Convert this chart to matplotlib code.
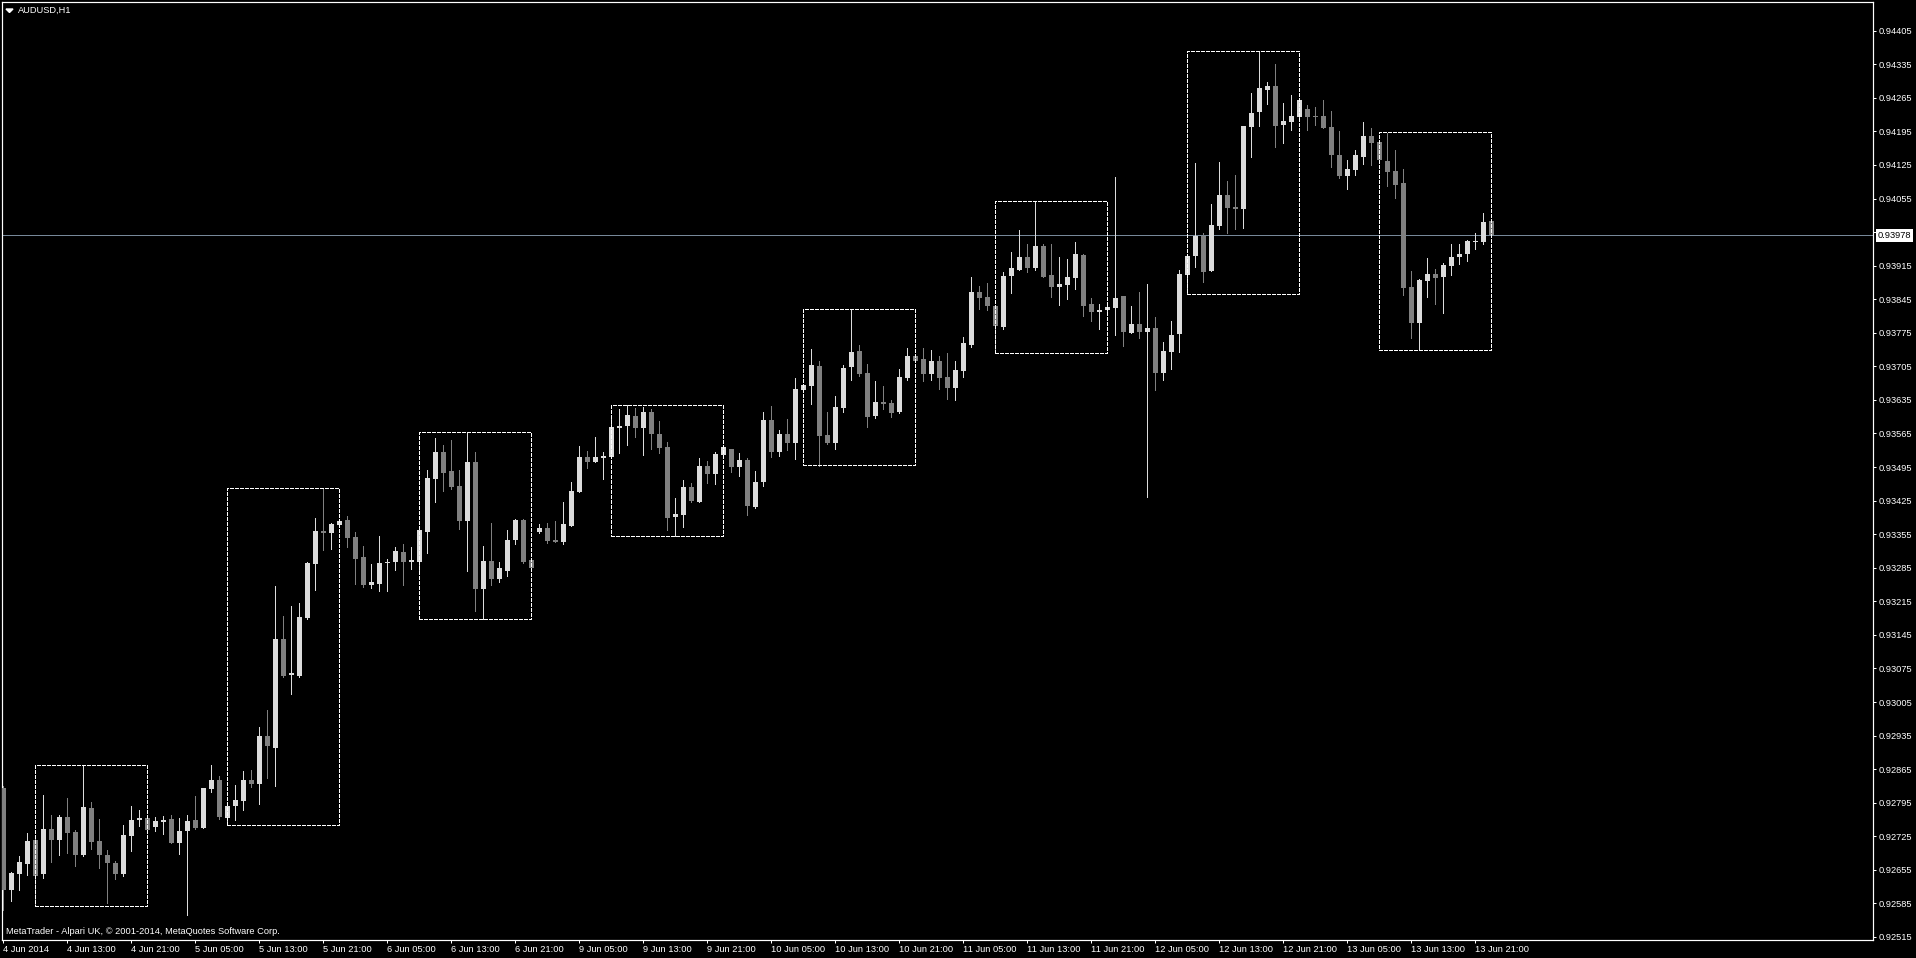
import numpy as np
import matplotlib
matplotlib.use('Agg')
import matplotlib.pyplot as plt
from matplotlib.patches import Rectangle, Polygon
from matplotlib.transforms import blended_transform_factory

plt.rcParams['font.family'] = ['Liberation Sans', 'DejaVu Sans']

# AUDUSD H1, bar 0 = 4 Jun 2014 05:00
opens = [0.92825, 0.92613, 0.92647, 0.92667, 0.92717, 0.92647, 0.92740, 0.92717, 0.92765, 0.92734,
         0.92685, 0.92784, 0.92715, 0.92687, 0.92670, 0.92647, 0.92726, 0.92758, 0.92763, 0.92745,
         0.92755, 0.92761, 0.92710, 0.92735, 0.92759, 0.92743, 0.92824, 0.92843, 0.92763, 0.92788,
         0.92799, 0.92843, 0.92834, 0.92934, 0.92909, 0.93137, 0.93062, 0.93059, 0.93180, 0.93292,
         0.93362, 0.93358, 0.93375, 0.93385, 0.93349, 0.93308, 0.93248, 0.93252, 0.93294, 0.93296,
         0.93318, 0.93298, 0.93298, 0.93360, 0.93471, 0.93527, 0.93486, 0.93456, 0.93383, 0.93506,
         0.93240, 0.93299, 0.93262, 0.93279, 0.93343, 0.93385, 0.93301, 0.93360, 0.93368, 0.93343,
         0.93339, 0.93372, 0.93443, 0.93516, 0.93506, 0.93514, 0.93516, 0.93576, 0.93581, 0.93601,
         0.93576, 0.93610, 0.93564, 0.93537, 0.93391, 0.93395, 0.93453, 0.93422, 0.93497, 0.93481,
         0.93520, 0.93533, 0.93495, 0.93510, 0.93412, 0.93464, 0.93593, 0.93526, 0.93564, 0.93545,
         0.93656, 0.93664, 0.93706, 0.93562, 0.93545, 0.93618, 0.93704, 0.93737, 0.93691, 0.93601,
         0.93631, 0.93629, 0.93610, 0.93681, 0.93727, 0.93720, 0.93689, 0.93716, 0.93683, 0.93660,
         0.93695, 0.93750, 0.93860, 0.93850, 0.93831, 0.93787, 0.93893, 0.93906, 0.93933, 0.93910,
         0.93956, 0.93896, 0.93871, 0.93875, 0.93889, 0.93937, 0.93835, 0.93818, 0.93822, 0.93827,
         0.93852, 0.93775, 0.93793, 0.93777, 0.93785, 0.93691, 0.93735, 0.93772, 0.93896, 0.93935,
         0.93977, 0.93904, 0.93998, 0.94062, 0.94037, 0.94033, 0.94204, 0.94235, 0.94281, 0.94290,
         0.94208, 0.94215, 0.94225, 0.94242, 0.94227, 0.94227, 0.94204, 0.94146, 0.94102, 0.94115,
         0.94142, 0.94185, 0.94173, 0.94133, 0.94112, 0.94087, 0.93870, 0.93795, 0.93883, 0.93898,
         0.93891, 0.93914, 0.93933, 0.93939, 0.93964, 0.93964, 0.94008]
highs = [0.92829, 0.92651, 0.92683, 0.92731, 0.92724, 0.92811, 0.92770, 0.92770, 0.92805, 0.92738,
         0.92872, 0.92797, 0.92761, 0.92697, 0.92673, 0.92749, 0.92788, 0.92780, 0.92765, 0.92765,
         0.92768, 0.92770, 0.92763, 0.92770, 0.92809, 0.92826, 0.92874, 0.92851, 0.92790, 0.92832,
         0.92861, 0.92863, 0.92953, 0.92989, 0.93247, 0.93185, 0.93205, 0.93212, 0.93296, 0.93389,
         0.93450, 0.93378, 0.93384, 0.93393, 0.93360, 0.93331, 0.93292, 0.93352, 0.93304, 0.93329,
         0.93335, 0.93329, 0.93364, 0.93489, 0.93556, 0.93541, 0.93552, 0.93489, 0.93568, 0.93527,
         0.93331, 0.93379, 0.93296, 0.93363, 0.93386, 0.93387, 0.93303, 0.93376, 0.93378, 0.93382,
         0.93422, 0.93464, 0.93539, 0.93528, 0.93558, 0.93526, 0.93601, 0.93616, 0.93624, 0.93618,
         0.93620, 0.93616, 0.93591, 0.93547, 0.93431, 0.93468, 0.93462, 0.93514, 0.93508, 0.93526,
         0.93539, 0.93533, 0.93524, 0.93514, 0.93487, 0.93610, 0.93622, 0.93572, 0.93595, 0.93681,
         0.93668, 0.93741, 0.93716, 0.93610, 0.93643, 0.93708, 0.93825, 0.93750, 0.93710, 0.93674,
         0.93664, 0.93635, 0.93700, 0.93743, 0.93729, 0.93743, 0.93739, 0.93727, 0.93733, 0.93716,
         0.93766, 0.93891, 0.93873, 0.93879, 0.93833, 0.93902, 0.93944, 0.93989, 0.93960, 0.94050,
         0.93960, 0.93960, 0.93933, 0.93929, 0.93964, 0.93939, 0.93848, 0.93835, 0.93831, 0.94100,
         0.93852, 0.93831, 0.93860, 0.93877, 0.93808, 0.93756, 0.93800, 0.93906, 0.93937, 0.94129,
         0.93983, 0.94044, 0.94131, 0.94092, 0.94104, 0.94206, 0.94275, 0.94363, 0.94298, 0.94336,
         0.94254, 0.94271, 0.94263, 0.94250, 0.94246, 0.94261, 0.94238, 0.94196, 0.94135, 0.94156,
         0.94215, 0.94202, 0.94175, 0.94192, 0.94156, 0.94117, 0.93904, 0.93887, 0.93931, 0.93908,
         0.93920, 0.93960, 0.93960, 0.93968, 0.93983, 0.94025, 0.94010]
lows = [0.92572, 0.92591, 0.92612, 0.92644, 0.92580, 0.92639, 0.92672, 0.92687, 0.92691, 0.92662,
        0.92683, 0.92699, 0.92658, 0.92585, 0.92635, 0.92643, 0.92695, 0.92747, 0.92738, 0.92737,
        0.92729, 0.92710, 0.92689, 0.92561, 0.92740, 0.92743, 0.92818, 0.92761, 0.92748, 0.92759,
        0.92780, 0.92827, 0.92793, 0.92847, 0.92830, 0.93057, 0.93022, 0.93058, 0.93179, 0.93239,
        0.93322, 0.93324, 0.93374, 0.93329, 0.93252, 0.93244, 0.93242, 0.93237, 0.93237, 0.93281,
        0.93248, 0.93283, 0.93275, 0.93315, 0.93423, 0.93444, 0.93450, 0.93365, 0.93279, 0.93194,
        0.93179, 0.93250, 0.93256, 0.93267, 0.93335, 0.93295, 0.93284, 0.93357, 0.93337, 0.93339,
        0.93335, 0.93372, 0.93443, 0.93493, 0.93506, 0.93470, 0.93516, 0.93524, 0.93541, 0.93558,
        0.93520, 0.93533, 0.93524, 0.93364, 0.93351, 0.93370, 0.93422, 0.93422, 0.93462, 0.93460,
        0.93518, 0.93485, 0.93476, 0.93395, 0.93410, 0.93456, 0.93516, 0.93518, 0.93531, 0.93512,
        0.93654, 0.93627, 0.93497, 0.93543, 0.93533, 0.93610, 0.93677, 0.93685, 0.93578, 0.93597,
        0.93616, 0.93599, 0.93608, 0.93677, 0.93714, 0.93674, 0.93677, 0.93658, 0.93637, 0.93635,
        0.93683, 0.93745, 0.93825, 0.93822, 0.93732, 0.93783, 0.93858, 0.93906, 0.93902, 0.93906,
        0.93891, 0.93850, 0.93833, 0.93846, 0.93866, 0.93810, 0.93800, 0.93783, 0.93820, 0.93770,
        0.93747, 0.93775, 0.93764, 0.93433, 0.93656, 0.93677, 0.93700, 0.93735, 0.93855, 0.93912,
        0.93881, 0.93904, 0.93991, 0.93983, 0.93991, 0.93994, 0.94142, 0.94206, 0.94252, 0.94162,
        0.94171, 0.94198, 0.94223, 0.94198, 0.94208, 0.94202, 0.94121, 0.94098, 0.94075, 0.94104,
        0.94127, 0.94125, 0.94133, 0.94081, 0.94056, 0.93854, 0.93764, 0.93739, 0.93850, 0.93835,
        0.93816, 0.93896, 0.93918, 0.93925, 0.93950, 0.93960, 0.93977]
closes = [0.92613, 0.92649, 0.92672, 0.92715, 0.92642, 0.92740, 0.92717, 0.92765, 0.92732, 0.92685,
          0.92786, 0.92714, 0.92685, 0.92670, 0.92647, 0.92728, 0.92759, 0.92763, 0.92739, 0.92757,
          0.92759, 0.92710, 0.92736, 0.92757, 0.92743, 0.92826, 0.92843, 0.92765, 0.92788, 0.92801,
          0.92843, 0.92834, 0.92934, 0.92913, 0.93137, 0.93059, 0.93066, 0.93183, 0.93294, 0.93362,
          0.93358, 0.93376, 0.93383, 0.93346, 0.93304, 0.93248, 0.93256, 0.93295, 0.93298, 0.93320,
          0.93298, 0.93301, 0.93363, 0.93472, 0.93527, 0.93483, 0.93454, 0.93383, 0.93506, 0.93240,
          0.93299, 0.93262, 0.93285, 0.93343, 0.93385, 0.93298, 0.93285, 0.93368, 0.93341, 0.93339,
          0.93376, 0.93445, 0.93516, 0.93506, 0.93516, 0.93518, 0.93578, 0.93581, 0.93604, 0.93576,
          0.93610, 0.93564, 0.93535, 0.93389, 0.93397, 0.93453, 0.93424, 0.93497, 0.93481, 0.93522,
          0.93537, 0.93495, 0.93510, 0.93414, 0.93464, 0.93593, 0.93526, 0.93564, 0.93545, 0.93658,
          0.93666, 0.93708, 0.93560, 0.93545, 0.93620, 0.93702, 0.93735, 0.93689, 0.93599, 0.93631,
          0.93627, 0.93608, 0.93683, 0.93727, 0.93716, 0.93689, 0.93716, 0.93681, 0.93660, 0.93697,
          0.93754, 0.93860, 0.93848, 0.93831, 0.93789, 0.93893, 0.93910, 0.93933, 0.93910, 0.93956,
          0.93891, 0.93871, 0.93877, 0.93891, 0.93939, 0.93831, 0.93818, 0.93822, 0.93829, 0.93848,
          0.93777, 0.93793, 0.93777, 0.93785, 0.93691, 0.93737, 0.93770, 0.93898, 0.93935, 0.93977,
          0.93902, 0.93999, 0.94062, 0.94035, 0.94033, 0.94206, 0.94233, 0.94285, 0.94290, 0.94206,
          0.94217, 0.94227, 0.94261, 0.94225, 0.94225, 0.94202, 0.94146, 0.94102, 0.94117, 0.94146,
          0.94185, 0.94171, 0.94135, 0.94110, 0.94083, 0.93868, 0.93795, 0.93885, 0.93898, 0.93889,
          0.93916, 0.93933, 0.93939, 0.93966, 0.93966, 0.94006, 0.93978]

# session boxes (bar index range and price range)
box_start = [4, 28, 52, 76, 100, 124, 148, 172]
box_end = [18, 42, 66, 90, 114, 138, 162, 186]
box_high = [0.92873, 0.93451, 0.93568, 0.93624, 0.93824, 0.94049, 0.94362, 0.94193]
box_low = [0.92580, 0.92748, 0.93179, 0.93351, 0.93499, 0.93732, 0.93855, 0.93739]

last_price = 0.93978

y_ticks = [0.92515, 0.92585, 0.92655, 0.92725, 0.92795, 0.92865, 0.92935, 0.93005, 0.93075,
           0.93145, 0.93215, 0.93285, 0.93355, 0.93425, 0.93495, 0.93565, 0.93635, 0.93705,
           0.93775, 0.93845, 0.93915, 0.93985, 0.94055, 0.94125, 0.94195, 0.94265, 0.94335, 0.94405]
y_tick_labels = ['%.5f' % v for v in y_ticks]
y_tick_labels[21] = ''   # hidden behind the price label in the terminal

x_tick_bars = [0, 8, 16, 24, 32, 40, 48, 56, 64, 72, 80, 88, 96, 104, 112, 120,
               128, 136, 144, 152, 160, 168, 176, 184]
x_tick_labels = ['4 Jun 2014', '4 Jun 13:00', '4 Jun 21:00', '5 Jun 05:00', '5 Jun 13:00',
                 '5 Jun 21:00', '6 Jun 05:00', '6 Jun 13:00', '6 Jun 21:00', '9 Jun 05:00',
                 '9 Jun 13:00', '9 Jun 21:00', '10 Jun 05:00', '10 Jun 13:00', '10 Jun 21:00',
                 '11 Jun 05:00', '11 Jun 13:00', '11 Jun 21:00', '12 Jun 05:00', '12 Jun 13:00',
                 '12 Jun 21:00', '13 Jun 05:00', '13 Jun 13:00', '13 Jun 21:00']

W, H = 1916, 958
PX = 72 / 100   # one pixel in points
FS = 6.7
bull = '#dcdcdc'
bear = '#808080'

fig = plt.figure(figsize=(W / 100, H / 100), dpi=100, facecolor='black')
ax = fig.add_axes([2 / W, 18 / H, 1871 / W, 938 / H], facecolor='black')

o = np.array(opens)
h = np.array(highs)
l = np.array(lows)
c = np.array(closes)
x = np.arange(len(o))
up = c >= o
cols = np.where(up, bull, bear)

ax.axhline(last_price, color='#778899', lw=PX, zorder=1)
ax.vlines(x, l, h, colors=cols, lw=PX, antialiased=False, zorder=2)
body_bottom = np.minimum(o, c)
body_h = np.maximum(np.abs(c - o), 0.00002)
ax.bar(x, body_h, 0.625, bottom=body_bottom, color=cols, linewidth=0,
       antialiased=False, zorder=3)

for x0, x1, hi, lo in zip(box_start, box_end, box_high, box_low):
    ax.add_patch(Rectangle((x0, lo), x1 - x0, hi - lo, fill=False, edgecolor='white',
                           lw=PX, linestyle=(0, (3, 2)), antialiased=False, zorder=4))

ax.set_xlim(-0.16, 233.7)
ax.set_ylim(0.925087, 0.944648)

for s in ax.spines.values():
    s.set_color('white')
    s.set_linewidth(PX * 1.2)

ax.yaxis.tick_right()
ax.set_yticks(y_ticks)
ax.set_yticklabels(y_tick_labels)
ax.tick_params(axis='y', colors='white', length=2.2, width=PX, pad=2.2, labelsize=FS)
ax.set_xticks(x_tick_bars)
ax.set_xticklabels(x_tick_labels, ha='left')
ax.tick_params(axis='x', colors='white', length=2.5, width=PX, pad=1.2, labelsize=FS)

# current price label
trans = blended_transform_factory(ax.transAxes, ax.transData)
ax.text(1.0025, last_price, '%.5f' % last_price, transform=trans, ha='left', va='center',
        color='black', fontsize=FS, clip_on=False, zorder=10,
        bbox=dict(boxstyle='square,pad=0.22', fc='white', ec='none'))

# symbol header and copyright line
fig.add_artist(Polygon([(6 / W, 1 - 9 / H), (13 / W, 1 - 9 / H), (9.5 / W, 1 - 12.5 / H)],
                       closed=True, transform=fig.transFigure, color='white'))
fig.text(18 / W, 1 - 10.5 / H, 'AUDUSD,H1', color='white', fontsize=FS, va='center', ha='left')
fig.text(6 / W, 1 - 931 / H, 'MetaTrader - Alpari UK, \u00a9 2001-2014, MetaQuotes Software Corp.',
         color='white', fontsize=FS, va='center', ha='left')

fig.savefig('out.png', dpi=100, facecolor='black')
